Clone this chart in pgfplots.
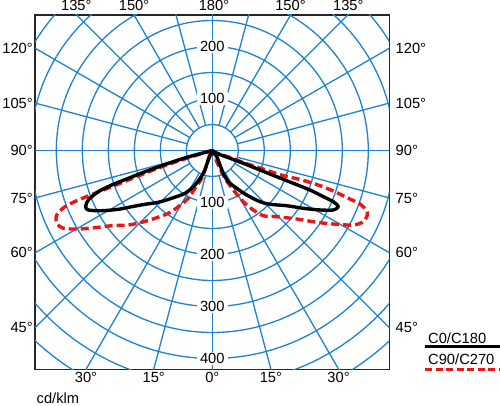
\documentclass[border=0pt]{standalone}
\usepackage{pgfplots}
\pgfplotsset{compat=1.18}
\usepackage{fontspec}
\setmainfont{Liberation Sans}
\definecolor{gridblue}{RGB}{28,130,210}
\definecolor{dashred}{RGB}{232,22,22}
\begin{document}
\fontsize{14.7bp}{17bp}\selectfont
\begin{tikzpicture}[font=\fontsize{14.7bp}{17bp}\selectfont]
\path[use as bounding box] (0bp,0bp) rectangle (500bp,406bp);
\begin{axis}[at={(35bp,36.7bp)}, anchor=south west, scale only axis,
  width=354.3bp, height=354.3bp,
  xmin=-341, xmax=340.4, ymin=-420.8, ymax=260.6,
  ticks=none, clip=true,
  axis line style={line width=1.4bp, draw=black!85}]
% grid circles
\pgfplotsinvokeforeach{50,100,150,200,250,300,350,400,450,500,550}{
  \draw[gridblue, line width=1.3bp] (axis cs:0,0) circle[radius=#1];
}
% radial lines
\pgfplotsinvokeforeach{15,30,45,60,75,105,120,135,150,165,195,210,225,240,255,285,300,315,330,345}{
  \draw[gridblue, line width=1.3bp] (axis cs:{50*sin(#1)},{-50*cos(#1)}) -- (axis cs:{700*sin(#1)},{-700*cos(#1)});
}
\draw[gridblue, line width=1.3bp] (axis cs:-700,0) -- (axis cs:700,0);
\draw[gridblue, line width=1.3bp] (axis cs:0,-700) -- (axis cs:0,700);
% radius labels
\node[fill=white, inner xsep=3bp, inner ysep=1.5bp] at (axis cs:0,100) {100};
\node[fill=white, inner xsep=3bp, inner ysep=1.5bp] at (axis cs:0,200) {200};
\node[fill=white, inner xsep=3bp, inner ysep=1.5bp] at (axis cs:0,-100) {100};
\node[fill=white, inner xsep=3bp, inner ysep=1.5bp] at (axis cs:0,-200) {200};
\node[fill=white, inner xsep=3bp, inner ysep=1.5bp] at (axis cs:0,-300) {300};
\node[fill=white, inner xsep=3bp, inner ysep=1.5bp] at (axis cs:0,-400) {400};
% C90/C270 (red dashed)
\addplot[dashred, line width=3.4bp, dash pattern=on 8bp off 4bp, smooth, tension=0.5, line join=round] coordinates {
(0,0) (-33.3,-10) (-65.4,-20.2) (-97.3,-31.2) (-129.4,-43.8) (-161.5,-56.7) (-193.5,-69.6) (-225.6,-82.3) (-257.7,-95.2) (-283.3,-108.1) (-299.2,-124) (-299.2,-140) (-286.5,-149.6) (-257.7,-151) (-225.6,-148.5) (-193.5,-144.6) (-161.5,-143.3) (-135.8,-138.1) (-110.2,-130.4) (-84.6,-120.8) (-65.4,-108.1) (-46.2,-91.9) (-33.3,-72.7) (-20.4,-53.5) (-10.8,-27.9) (-4.4,-5.4) (0,0)
};
\addplot[dashred, line width=3.4bp, dash pattern=on 8bp off 4bp, smooth, tension=0.5, line join=round] coordinates {
(0,0) (8.5,-5) (34,-13.5) (59.6,-23) (91.7,-33.7) (136,-48.1) (168.7,-55.8) (200.8,-65.4) (232.7,-77.9) (258.5,-90.4) (284,-102.9) (295.6,-114.4) (298.1,-124) (290.4,-136.9) (271.2,-143.3) (239.2,-141.9) (200.8,-138.1) (162.3,-131.7) (123.8,-127.3) (98.1,-125.4) (78.8,-114.4) (59.6,-98.5) (40.4,-76) (24.4,-53.5) (11.5,-27.9) (0,0)
};
% C0/C180 (black)
\addplot[black, line width=3.4bp, smooth, tension=0.5, line join=round, line cap=round] coordinates {
(0,0) (-33.3,-8.7) (-65.4,-18.3) (-97.3,-29.2) (-129.4,-40.8) (-161.5,-53.5) (-193.5,-66.3) (-219.2,-79.2) (-238.5,-95.2) (-243.5,-108.1) (-238.5,-114.4) (-212.7,-115.8) (-180.8,-113.1) (-155,-108.1) (-129.4,-103.5) (-103.8,-99.6) (-78.1,-91.9) (-52.5,-82.3) (-33.3,-66.3) (-17.3,-43.8) (-7.7,-18.3) (0,0)
};
\addplot[black, line width=3.4bp, smooth, tension=0.5, line join=round, line cap=round] coordinates {
(0,0) (8.5,-5.4) (34,-15) (59.6,-24.6) (91.7,-37.5) (123.8,-50.4) (155.8,-63.1) (187.9,-76) (213.5,-88.8) (232.7,-98.5) (242.3,-108.1) (232.7,-114.4) (207.1,-114.4) (175,-111.2) (143.1,-106.2) (111,-103.5) (91.7,-98.5) (66.2,-85.6) (46.9,-72.7) (30.8,-60) (21.2,-43.8) (14.8,-27.9) (8.5,-11.9) (0,0)
};
\end{axis}
% top labels
\node[anchor=base, inner sep=0] at (76.3bp,395.5bp) {135°};
\node[anchor=base, inner sep=0] at (134.1bp,395.5bp) {150°};
\node[anchor=base, inner sep=0] at (214bp,395.5bp) {180°};
\node[anchor=base, inner sep=0] at (290.5bp,395.5bp) {150°};
\node[anchor=base, inner sep=0] at (348.3bp,395.5bp) {135°};
% left and right labels
\foreach \y/\t in {357.9/120,303/105,255.5/90,208/75,153.1/60,78.2/45}{
  \node[anchor=east, inner sep=0] at (33bp,\y bp) {\t°};
  \node[anchor=west, inner sep=0] at (395.5bp,\y bp) {\t°};
}
% bottom labels
\foreach \x/\t in {86/30,153.7/15,212.3/0,270.9/15,338.6/30}{
  \node[anchor=base, inner sep=0] at (\x bp,23.5bp) {\t°};
}
\node[anchor=base west, inner sep=0] at (36.5bp,2.5bp) {cd/klm};
% legend
\node[anchor=base west, inner sep=0] at (428bp,62.7bp) {C0/C180};
\draw[black, line width=3.4bp] (425bp,59.5bp) -- (500bp,59.5bp);
\node[anchor=base west, inner sep=0] at (428bp,41bp) {C90/C270};
\draw[dashred, line width=3.4bp, dash pattern=on 7bp off 3.5bp] (425bp,36.7bp) -- (500bp,36.7bp);
\end{tikzpicture}
\end{document}
